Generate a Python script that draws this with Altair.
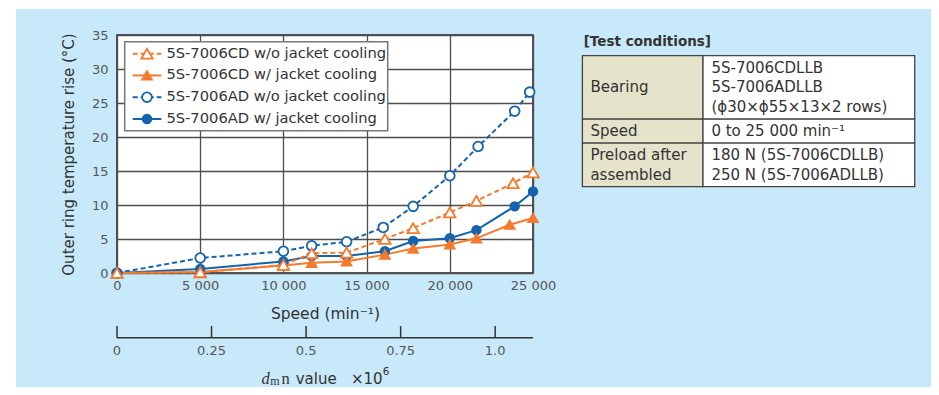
import altair as alt
import pandas as pd

# ---------------- data ----------------
series = [
    "5S-7006CD w/o jacket cooling",
    "5S-7006CD w/ jacket cooling",
    "5S-7006AD w/o jacket cooling",
    "5S-7006AD w/ jacket cooling",
]
cd_wo_speed = [0, 5000, 10000, 11700, 13800, 16100, 17800, 20000, 21600, 23800, 25000]
cd_wo_temp = [0, 0.1, 1.2, 2.9, 3.0, 5.0, 6.6, 8.9, 10.6, 13.2, 14.8]
cd_w_speed = [0, 5000, 10000, 11700, 13800, 16100, 17800, 20000, 21600, 23600, 25000]
cd_w_temp = [0, 0.15, 1.1, 1.5, 1.7, 2.7, 3.6, 4.2, 5.1, 7.1, 8.1]
ad_wo_speed = [0, 5000, 10000, 11700, 13800, 16000, 17800, 20000, 21700, 23900, 24800]
ad_wo_temp = [0, 2.2, 3.2, 4.0, 4.6, 6.7, 9.8, 14.3, 18.6, 23.8, 26.6]
ad_w_speed = [0, 5000, 10000, 11700, 13800, 16100, 17800, 20000, 21600, 23900, 25000]
ad_w_temp = [0, 0.6, 1.7, 2.5, 2.5, 3.2, 4.7, 5.1, 6.3, 9.8, 12.0]

x_ticks = [0, 5000, 10000, 15000, 20000, 25000]
y_ticks = [0, 5, 10, 15, 20, 25, 30, 35]
dmn_ticks = [0, 0.25, 0.5, 0.75, 1.0]
dmn_labels = ["0", "0.25", "0.5", "0.75", "1.0"]
dmn_max = 1.1

tbl_title = "[Test conditions]"
tbl_labels = ["Bearing", "Speed", "Preload after\nassembled"]
tbl_values = [
    "5S-7006CDLLB\n5S-7006ADLLB\n(\u03d530\u00d7\u03d555\u00d713\u00d72 rows)",
    "0 to 25 000 min\u207b\u00b9",
    "180 N (5S-7006CDLLB)\n250 N (5S-7006ADLLB)",
]

# ---------------- styles ----------------
ORANGE = "#f47a2c"
BLUE = "#1463ad"
BG = "#c7e9f9"
FONT = "DejaVu Sans"
TXT = "#333333"
W, H = 416, 238

styles = [
    dict(color=ORANGE, dash=[5, 3], shape="triangle-up", fill="white", size=130),
    dict(color=ORANGE, dash=None, shape="triangle-up", fill=ORANGE, size=95),
    dict(color=BLUE, dash=[5, 3], shape="circle", fill="white", size=95),
    dict(color=BLUE, dash=None, shape="circle", fill=BLUE, size=75),
]
speeds = [cd_wo_speed, cd_w_speed, ad_wo_speed, ad_w_speed]
temps = [cd_wo_temp, cd_w_temp, ad_wo_temp, ad_w_temp]
draw_order = [2, 3, 1, 0]

x_axis = alt.Axis(
    values=x_ticks, grid=True, ticks=False, domain=False, labelFlush=False,
    labelExpr="replace(format(datum.value, ','), ',', ' ')",
    labelPadding=6, labelFontSize=13, labelColor="#555", labelFont=FONT,
    title="Speed (min\u207b\u00b9)", titleFontSize=15.5, titleColor=TXT,
    titleFont=FONT, titleFontWeight="normal", titleY=40, titleBaseline="middle",
    gridColor="#4d4d4d", gridWidth=1.3,
)
y_axis = alt.Axis(
    values=y_ticks, grid=True, ticks=False, domain=False, labelFlush=False,
    labelPadding=9, labelFontSize=13, labelColor="#555", labelFont=FONT,
    title="Outer ring temperature rise (\u00b0C)", titleFontSize=15,
    titleColor=TXT, titleFont=FONT, titleFontWeight="normal",
    titleX=-49, titleBaseline="middle",
    gridColor="#4d4d4d", gridWidth=1.3,
)
xs = alt.Scale(domain=[0, 25000], nice=False)
ys = alt.Scale(domain=[0, 35], nice=False)

dfs = [pd.DataFrame({"speed": speeds[i], "temp": temps[i], "series": series[i]})
       for i in range(4)]

line_layers = []
point_layers = []
for i in draw_order:
    st = styles[i]
    lk = dict(strokeWidth=2, color=st["color"])
    if st["dash"]:
        lk["strokeDash"] = st["dash"]
    line_layers.append(
        alt.Chart(dfs[i]).mark_line(**lk).encode(
            x=alt.X("speed:Q", scale=xs, axis=x_axis),
            y=alt.Y("temp:Q", scale=ys, axis=y_axis),
        )
    )
    point_layers.append(
        alt.Chart(dfs[i]).mark_point(
            filled=True, shape=st["shape"], size=st["size"], fill=st["fill"],
            stroke=st["color"], strokeWidth=1.8, opacity=1,
        ).encode(
            x=alt.X("speed:Q", scale=xs, axis=x_axis),
            y=alt.Y("temp:Q", scale=ys, axis=y_axis),
        )
    )
main = alt.layer(*line_layers, *point_layers)

# ---------------- legend ----------------
one = alt.Data(values=[{}])
leg_df = pd.DataFrame({"series": series})
leg_scale = alt.Scale(type="point", domain=series, range=[18.7, 84], padding=0)
leg_layers = [
    alt.Chart(one).mark_rect(fill="white", stroke="#777", strokeWidth=1.5).encode(
        x=alt.value(7.7), x2=alt.value(270.7), y=alt.value(6.7), y2=alt.value(95.7)
    )
]
for i in range(4):
    st = styles[i]
    sub = leg_df.iloc[[i]]
    lk = dict(strokeWidth=2, color=st["color"])
    if st["dash"]:
        lk["strokeDash"] = st["dash"]
    leg_layers.append(
        alt.Chart(sub).mark_rule(**lk).encode(
            x=alt.value(15.7), x2=alt.value(44.4),
            y=alt.Y("series:N", scale=leg_scale, axis=None),
        )
    )
    leg_layers.append(
        alt.Chart(sub).mark_point(
            filled=True, shape=st["shape"], size=st["size"], fill=st["fill"],
            stroke=st["color"], strokeWidth=1.8, opacity=1,
        ).encode(
            x=alt.value(30), y=alt.Y("series:N", scale=leg_scale, axis=None),
        )
    )
leg_layers.append(
    alt.Chart(leg_df).mark_text(
        align="left", baseline="middle", fontSize=14.7, font=FONT, color=TXT
    ).encode(
        x=alt.value(49.4), y=alt.Y("series:N", scale=leg_scale, axis=None),
        text="series:N",
    )
)
legend = alt.layer(*leg_layers)

# ---------------- table ----------------
lab_n = [a.count("\n") + 1 for a in tbl_labels]
val_n = [b.count("\n") + 1 for b in tbl_values]
nlines = [max(a, b) for a, b in zip(lab_n, val_n)]
y0, y1 = [], []
acc = 0.0
for n in nlines:
    y0.append(acc)
    acc += n + 0.2
    y1.append(acc)
yc = [(a + b) / 2 for a, b in zip(y0, y1)]
tbl_df = pd.DataFrame({
    "label": tbl_labels, "value": tbl_values, "y0": y0, "y1": y1,
    "ylab": [c - (n - 1) / 2 for c, n in zip(yc, lab_n)],
    "yval": [c - (n - 1) / 2 for c, n in zip(yc, val_n)],
})
TY0, TY1 = 20.7, 151.7
line_h = (TY1 - TY0) / acc
tys = alt.Scale(domain=[0, acc], range=[TY0, TY1], nice=False, zero=False)
tbl_cols = [465.4, 586.0, 797.7]
table = alt.layer(
    alt.Chart(tbl_df).mark_rect(fill="#e6e3cb", stroke="#444", strokeWidth=1.3).encode(
        x=alt.value(tbl_cols[0]), x2=alt.value(tbl_cols[1]),
        y=alt.Y("y0:Q", scale=tys, axis=None), y2="y1:Q",
    ),
    alt.Chart(tbl_df).mark_rect(fill="white", stroke="#444", strokeWidth=1.3).encode(
        x=alt.value(tbl_cols[1]), x2=alt.value(tbl_cols[2]),
        y=alt.Y("y0:Q", scale=tys, axis=None), y2="y1:Q",
    ),
    alt.Chart(tbl_df).mark_text(
        align="left", baseline="middle", lineBreak="\n", lineHeight=line_h,
        fontSize=15, font=FONT, color=TXT,
    ).encode(x=alt.value(tbl_cols[0] + 8), y=alt.Y("ylab:Q", scale=tys, axis=None), text="label:N"),
    alt.Chart(tbl_df).mark_text(
        align="left", baseline="middle", lineBreak="\n", lineHeight=line_h,
        fontSize=15, font=FONT, color=TXT,
    ).encode(x=alt.value(tbl_cols[1] + 8.4), y=alt.Y("yval:Q", scale=tys, axis=None), text="value:N"),
    alt.Chart(one).mark_text(
        align="left", baseline="middle", fontSize=13.5, font=FONT,
        fontWeight="bold", color=TXT,
    ).encode(x=alt.value(466.7), y=alt.value(6.7), text=alt.value(tbl_title)),
)

# ---------------- dmn axis ----------------
TB = 343.5  # title baseline
dmn_df = pd.DataFrame({"v": dmn_ticks, "lab": dmn_labels})
dxs = alt.Scale(domain=[0, dmn_max], nice=False)
dmn = alt.layer(
    alt.Chart(one).mark_rule(color="#333", strokeWidth=1.5).encode(
        x=alt.X(datum=0, scale=dxs, axis=None), x2=alt.X2(datum=dmn_max),
        y=alt.value(302.7),
    ),
    alt.Chart(dmn_df).mark_rule(color="#333", strokeWidth=1.5).encode(
        x=alt.X("v:Q", scale=dxs, axis=None), y=alt.value(291), y2=alt.value(302.7),
    ),
    alt.Chart(dmn_df).mark_text(
        baseline="middle", fontSize=13, font=FONT, color="#555"
    ).encode(x=alt.X("v:Q", scale=dxs, axis=None), y=alt.value(315.7), text="lab:N"),
    alt.Chart(one).mark_text(align="left", font="Liberation Serif", fontStyle="italic",
                             fontSize=16.5, color=TXT).encode(
        x=alt.value(144.4), y=alt.value(TB), text=alt.value("d")),
    alt.Chart(one).mark_text(align="left", font="Liberation Serif",
                             fontSize=12, color=TXT).encode(
        x=alt.value(153.3), y=alt.value(TB + 2.3), text=alt.value("m")),
    alt.Chart(one).mark_text(align="left", font="Liberation Serif",
                             fontSize=16.5, color=TXT).encode(
        x=alt.value(164.5), y=alt.value(TB), text=alt.value("n")),
    alt.Chart(one).mark_text(align="left", font=FONT, fontSize=15, color=TXT).encode(
        x=alt.value(178.7), y=alt.value(TB), text=alt.value("value")),
    alt.Chart(one).mark_text(align="left", font=FONT, fontSize=15, color=TXT).encode(
        x=alt.value(234.0), y=alt.value(TB), text=alt.value("\u00d710")),
    alt.Chart(one).mark_text(align="left", font=FONT, fontSize=10.5, color=TXT).encode(
        x=alt.value(265.7), y=alt.value(TB - 6.7), text=alt.value("6")),
)

# ---------------- white page strips ----------------
strips = alt.layer(
    alt.Chart(one).mark_rect(fill="white").encode(
        x=alt.value(-109), x2=alt.value(-101), y=alt.value(-27), y2=alt.value(360)),
    alt.Chart(one).mark_rect(fill="white").encode(
        x=alt.value(-109), x2=alt.value(822), y=alt.value(-27), y2=alt.value(-26)),
)

chart = alt.layer(main, legend, table, dmn, strips).resolve_scale(
    x="independent", y="independent"
).properties(
    width=W, height=H,
    autosize=alt.AutoSizeParams(type="none"),
    padding={"left": 109, "top": 27, "right": 398, "bottom": 114},
).configure(background=BG, font=FONT).configure_view(
    fill="white", stroke="#222", strokeWidth=1.5
)

chart.save("out.html", embed_options={"renderer": "svg", "actions": False})
